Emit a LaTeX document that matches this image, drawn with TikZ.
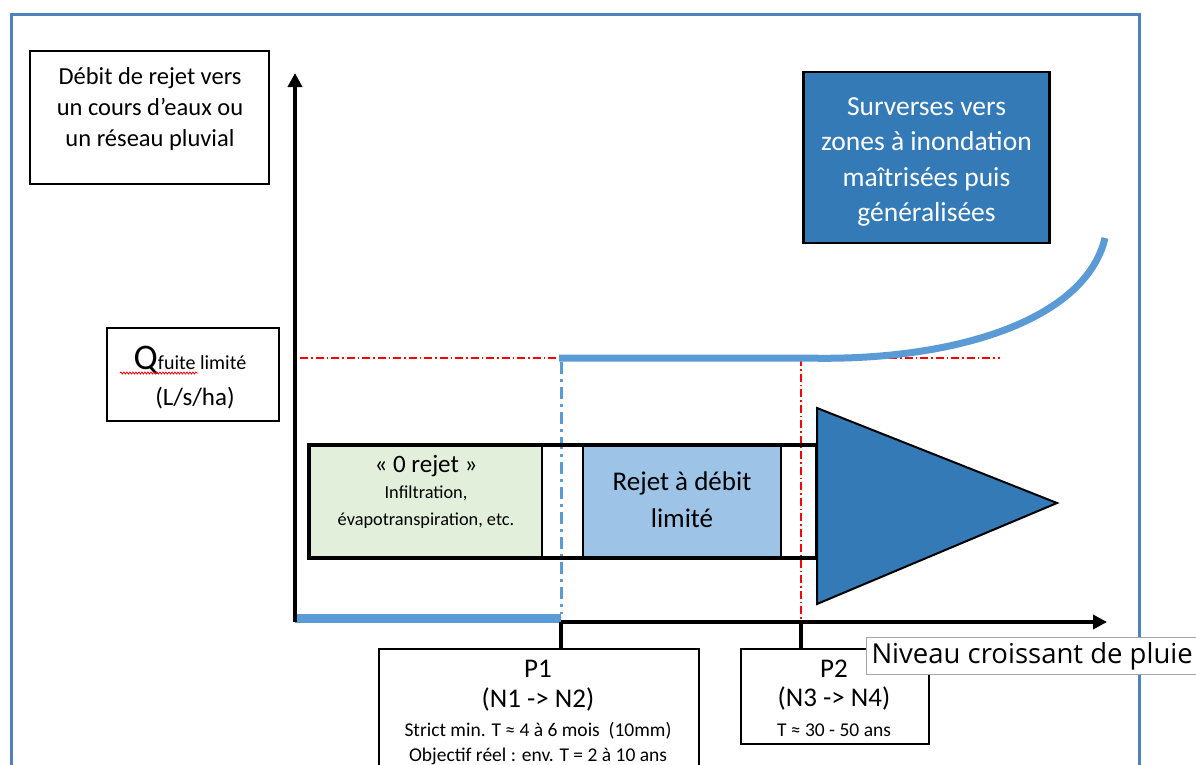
\documentclass[tikz,border=0pt]{standalone}
\usepackage{fontspec}
\setmainfont{Carlito}
\newfontfamily\lblfont{Open Sans}
\usetikzlibrary{arrows.meta,decorations.pathmorphing}
\definecolor{frameblue}{HTML}{4F81BD}
\definecolor{lineblue}{HTML}{5B9BD5}
\definecolor{cellgreen}{HTML}{E2EFDA}
\definecolor{cellblue}{HTML}{9DC3E6}
\definecolor{darkblue}{HTML}{337AB7}
\tikzset{
  boxw/.style={draw=black, line width=1.8pt, fill=white, inner sep=0pt},
  txt/.style={inner sep=0pt, align=center},
  reddash/.style={red, line width=1.5pt, dash pattern=on 8pt off 3pt on 1.5pt off 3pt},
  bluedash/.style={lineblue, line width=3pt, dash pattern=on 12pt off 5pt on 3pt off 5pt},
  axis/.style={black, line width=3.5pt},
  stepline/.style={lineblue, line width=7pt},
}
\begin{document}
\begin{tikzpicture}[x=1pt,y=-1pt]
\useasboundingbox (0,0) rectangle (1196,764);
\fill[white] (0,0) rectangle (1196,764);
% outer frame
\draw[frameblue, line width=3pt] (11,780) -- (11,14) -- (1139,14) -- (1139,780);

% y label box
\node[boxw, minimum width=239pt, minimum height=133pt] (ybox) at (149.5,117.5) {};
\node[txt, font=\fontsize{24.5}{31}\selectfont, anchor=center] (ytxt) at (150,109) {Débit de rejet vers\\un cours d’eaux ou\\un réseau pluvial};

% Q box
\node[boxw, minimum width=172pt, minimum height=93pt] (qbox) at (193,374.5) {};
\node[txt, anchor=base] (qtxt) at (190,369) {{\fontsize{36}{36}\selectfont Q}{\fontsize{20}{20}\selectfont fuite limité}};
\node[txt, anchor=base, font=\fontsize{25}{28}\selectfont] (qunit) at (195,405) {(L/s/ha)};
\coordinate (wa) at (120,373);
\coordinate (wb) at (198,373);
\draw[red, line width=0.8pt, decorate, decoration={snake, amplitude=1pt, segment length=3pt}] (wa) -- (wb);

% red dash-dot lines
\coordinate (rl) at (300,358);
\coordinate (rr) at (1000,358);
\draw[reddash] (rl) -- (rr);
\coordinate (r2t) at (801,358);
\coordinate (r2b) at (801,620);
\draw[reddash] (r2t) -- (r2b);

% blue dash-dot vertical at P1
\coordinate (b1t) at (561,362);
\coordinate (b1b) at (561,614);
\draw[bluedash] (b1t) -- (b1b);

% blue step line + curve
\coordinate (s0) at (559,358);
\coordinate (s1) at (805,358);
\coordinate (s2) at (1105,238);
\draw[stepline] (s0) -- (s1) .. controls (950,362) and (1085,322) .. (s2);

% main bar
\fill[cellgreen] (310,446) rectangle (542,557);
\fill[cellblue] (583,446) rectangle (781,557);
\draw[black, line width=1.5pt] (542,446) -- (542,557) (583,446) -- (583,557) (781,446) -- (781,557);
\node[draw=black, line width=3.5pt, minimum width=508pt, minimum height=113pt, inner sep=0pt] (bar) at (563,501.5) {};
\node[txt, anchor=base, font=\fontsize{25}{28}\selectfont] (zr) at (426,472) {« 0 rejet »};
\node[txt, anchor=center, font=\fontsize{18.3}{27}\selectfont] (inf) at (426,507) {Infiltration,\\évapotranspiration, etc.};
\node[txt, anchor=center, font=\fontsize{27}{37}\selectfont] (rej) at (682,500) {Rejet à débit\\limité};

% triangle
\coordinate (t1) at (817,408);
\coordinate (t2) at (1057,503);
\coordinate (t3) at (817,604);
\draw[black, line width=2pt, fill=darkblue, line join=miter] (t1) -- (t2) -- (t3) -- cycle;

% Surverses box
\node[draw=black, line width=2.5pt, fill=darkblue, minimum width=246pt, minimum height=171pt, inner sep=0pt] (sbox) at (926.5,157.5) {};
\node[txt, text=white, font=\fontsize{27.5}{35.3}\selectfont, anchor=center] (stxt) at (926.5,162) {Surverses vers\\zones à inondation\\maîtrisées puis\\généralisées};

% blue bottom line
\coordinate (bl0) at (295,618);
\coordinate (bl1) at (561,618);
\draw[lineblue, line width=9pt] (bl0) -- (bl1);

% axes
\coordinate (o) at (295,622);
\coordinate (ytop) at (295,73);
\draw[axis, -{Triangle[length=14pt,width=14pt]}] (o) -- (ytop);
\coordinate (xa) at (561,622);
\coordinate (xend) at (1107,622);
\draw[axis, -{Triangle[length=14pt,width=14pt]}] (xa) -- (xend);

% P boxes
\node[boxw, minimum width=320pt, minimum height=130pt, anchor=north west] (p1) at (378,648) {};
\node[boxw, minimum width=188pt, minimum height=95pt, anchor=north west] (p2) at (740,648) {};
\draw[axis] (xa) -- (p1.north -| xa);
\coordinate (xb) at (801,622);
\draw[axis] (xb) -- (p2.north -| xb);

\node[txt, anchor=base, font=\fontsize{27}{30}\selectfont] (p1a) at (538,677) {P1};
\node[txt, anchor=base, font=\fontsize{27}{30}\selectfont] (p1b) at (538,707) {(N1 -> N2)};
\node[txt, anchor=base, font=\fontsize{19.5}{22}\selectfont] (p1c) at (538,736) {Strict min. T ≈ 4 à 6 mois~~(10mm)};
\node[txt, anchor=base, font=\fontsize{19.5}{22}\selectfont] (p1d) at (538,761) {Objectif réel : env. T = 2 à 10 ans};
\node[txt, anchor=base, font=\fontsize{27}{30}\selectfont] (p2a) at (834,677) {P2};
\node[txt, anchor=base, font=\fontsize{27}{30}\selectfont] (p2b) at (834,706) {(N3 -> N4)};
\node[txt, anchor=base, font=\fontsize{19.5}{22}\selectfont] (p2c) at (834,736) {T ≈ 30 - 50 ans};

% Niveau label
\node[draw=gray!70, line width=1pt, fill=white, anchor=north west, inner xsep=5pt, inner ysep=0pt, minimum height=37pt, font=\lblfont\fontsize{27.5}{30}\selectfont] (niv) at (866,637) {Niveau croissant de pluie};
\end{tikzpicture}
\end{document}
